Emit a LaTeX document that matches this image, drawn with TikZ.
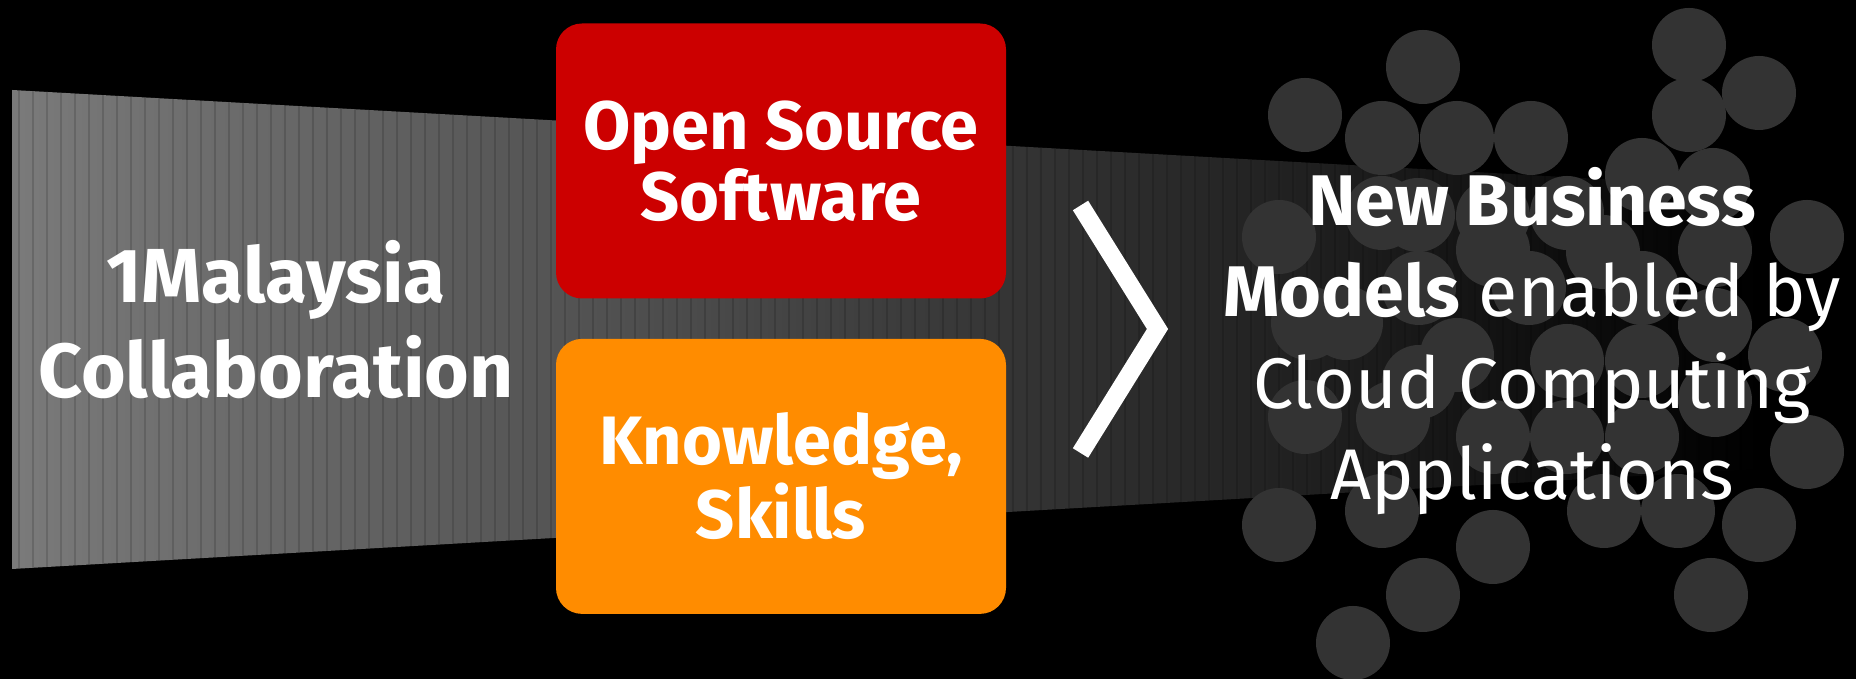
\documentclass[tikz,border=0pt]{standalone}
\usepackage{fontspec}
\setmainfont{Fira Sans}
\usetikzlibrary{positioning}

\definecolor{boxred}{HTML}{CC0000}
\definecolor{boxorange}{HTML}{FF8C00}
\definecolor{dotgray}{HTML}{333333}

\begin{document}
\begin{tikzpicture}[x=0.1mm, y=-0.1mm,
  every node/.style={text=white, inner sep=0pt},
  tile/.style={rounded corners=2.6mm, minimum width=45mm, minimum height=27.5mm,
    align=center, font=\fontsize{19.5}{18.5}\selectfont\bfseries},
  label/.style={align=center, font=\fontsize{21.5}{26.5}\selectfont}]
  % 1. background
  \fill[black] (0,0) rectangle (1856,679);
  \useasboundingbox (0,0) rectangle (1856,679);

  % 2. striped wedge
  \begin{scope}
    \clip (12,90) -- (1760,188) -- (1760,469) -- (12,569) -- cycle;
    \shade[left color=black!52, right color=black] (12,80) rectangle (1760,580);
    \foreach \x in {19,33,...,1760}
      \draw[black, opacity=0.14, line width=0.3pt] (\x,80) -- (\x,580);
  \end{scope}

  % 3. cloud of dots
  \foreach \cx/\cy in {1689/45, 1423/67, 1759/93, 1305/115, 1689/115,
      1382/138, 1457/138, 1531/138, 1642/175, 1713/185, 1279/237,
      1382/213, 1418/215, 1493/216, 1567/213, 1807/237, 1603/252,
      1715/250, 1493/250, 1419/288, 1529/288, 1642/288, 1308/323,
      1346/323, 1715/325, 1457/355, 1785/355, 1567/361, 1642/361,
      1419/382, 1715/400, 1305/417, 1393/418, 1493/437, 1567/437,
      1642/437, 1807/452, 1382/511, 1279/525, 1604/511, 1678/511,
      1759/525, 1493/547, 1423/595, 1711/595, 1353/643}
    \fill[dotgray] (\cx,\cy) circle[radius=3.7mm];

  % 4. boxes
  \node[tile, fill=boxred] (oss) at (781,161) {Open Source\\Software};
  \node[tile, fill=boxorange, below=3.9mm of oss] (skills) {Knowledge,\\Skills};

  % 5. texts
  \node[label, font=\fontsize{21.8}{27}\selectfont\bfseries] (collab) at (276,320)
    {1Malaysia\\Collaboration};
  \node[label, font=\fontsize{20.4}{26}\selectfont] (models) at (1532,341)
    {\textbf{New Business}\\\textbf{Models} enabled by\\Cloud Computing\\Applications};

  % 6. chevron
  \draw[white, line width=1.8mm] (1080.5,205.5) -- (1157.5,329) -- (1080.5,453);
\end{tikzpicture}
\end{document}
